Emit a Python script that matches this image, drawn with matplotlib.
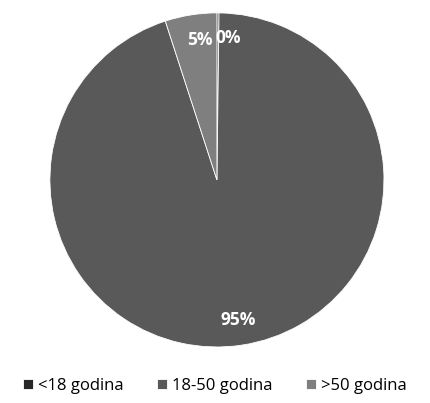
import matplotlib.pyplot as plt

plt.rcParams['font.family'] = ['Open Sans', 'DejaVu Sans']

groups = ['<18 godina', '18-50 godina', '>50 godina']
shares = [0.2, 94.8, 5.0]
colors = ['#262626', '#595959', '#7f7f7f']

fig = plt.figure(figsize=(4.30, 4.03), dpi=100)
ax = fig.add_axes([0.116, 0.139, 0.777, 0.829])

wedges, texts, autotexts = ax.pie(shares, colors=colors, startangle=90, counterclock=False,
                                  autopct='%.0f%%', pctdistance=0.85,
                                  wedgeprops=dict(edgecolor='white', linewidth=0.6),
                                  textprops=dict(color='white', fontsize=12.5, fontweight='bold'))
# Excel squeezes the two small labels together near the top
x, y = autotexts[0].get_position()
autotexts[0].set_position((x + 0.06, y))
x, y = autotexts[2].get_position()
autotexts[2].set_position((x + 0.03, y))
ax.set_xlim(-1, 1)
ax.set_ylim(-1, 1)
ax.set_aspect('equal')

fig.legend(wedges, groups, loc='lower center', ncol=3, frameon=False,
           bbox_to_anchor=(0.5, -0.015), fontsize=12, handlelength=0.6, handleheight=0.6,
           handletextpad=0.3, columnspacing=2.0)

plt.savefig('out.png')
